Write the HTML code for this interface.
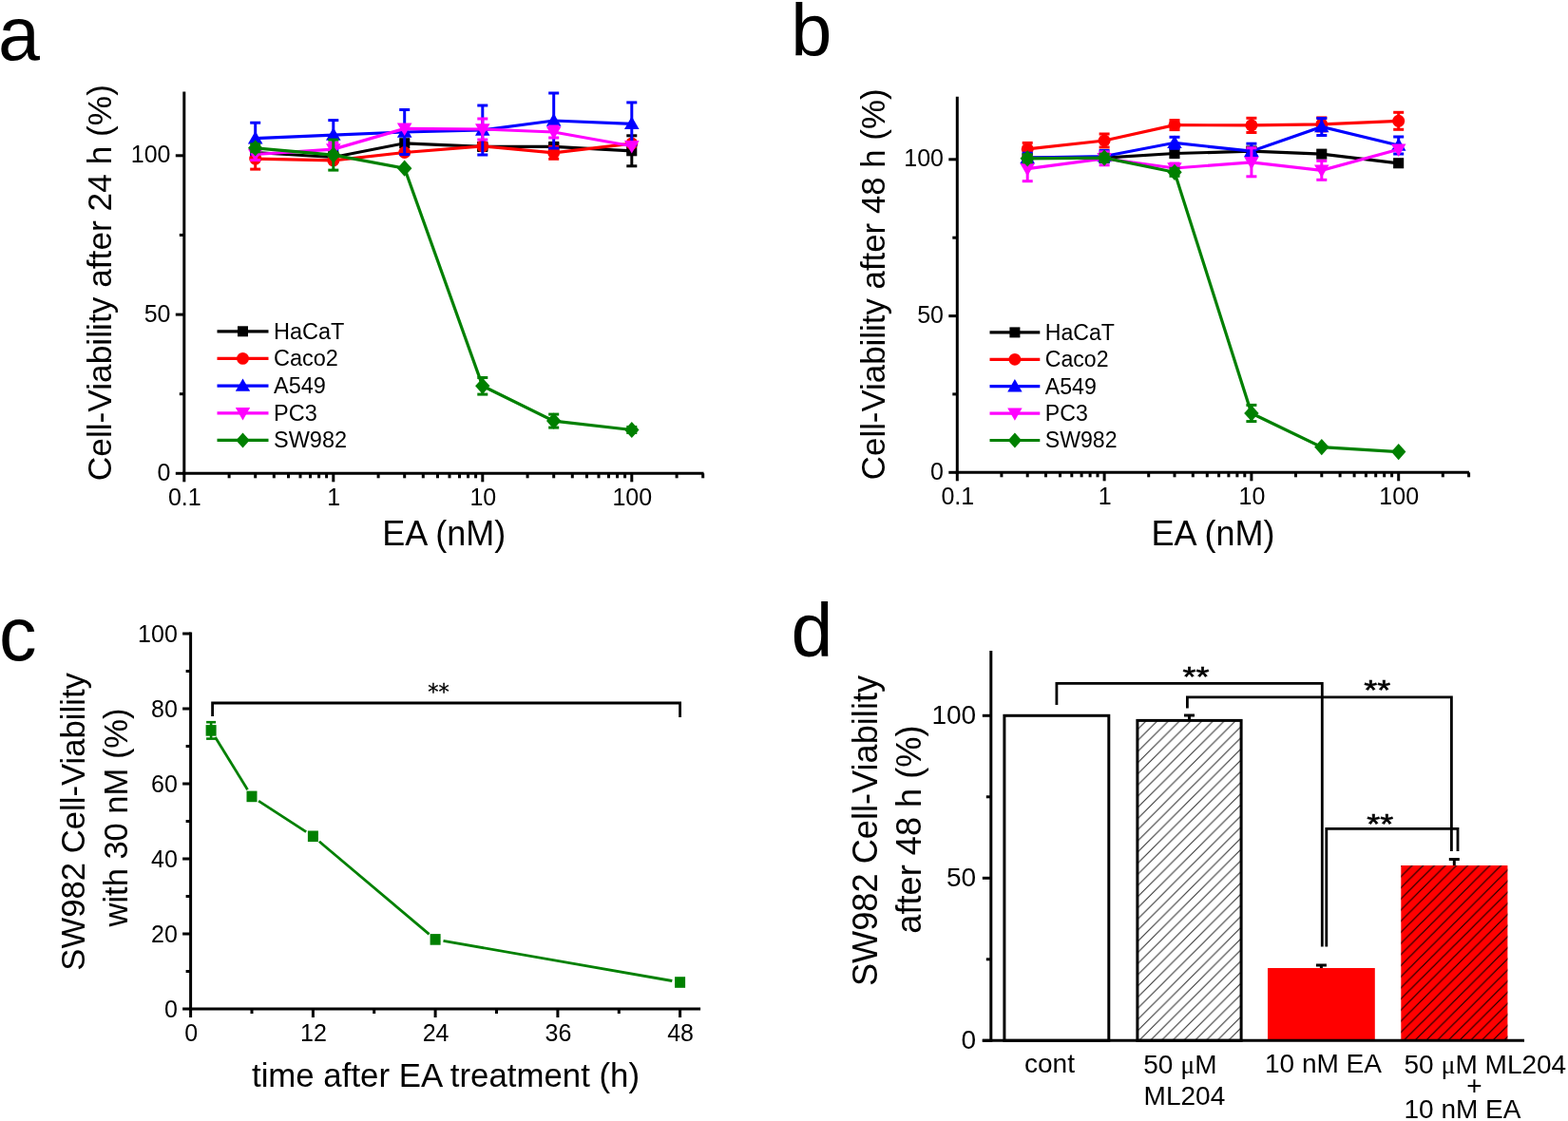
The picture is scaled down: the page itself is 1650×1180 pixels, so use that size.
<!DOCTYPE html><html><head><meta charset="utf-8"><title>Figure</title><style>html,body{margin:0;padding:0;background:#fff;width:1650px;height:1180px;overflow:hidden}svg{display:block}</style></head><body>
<svg width="1650" height="1180" viewBox="0 0 1650 1180" font-family="'Liberation Sans', Arial, sans-serif" fill="#000">
<rect width="1650" height="1180" fill="#fff"/>
<line x1="193.8" y1="96.5" x2="193.8" y2="499.8" stroke="#000" stroke-width="3" stroke-linecap="butt"/>
<line x1="192.3" y1="498.3" x2="740.5" y2="498.3" stroke="#000" stroke-width="3" stroke-linecap="butt"/>
<line x1="184.8" y1="498.3" x2="193.8" y2="498.3" stroke="#000" stroke-width="3" stroke-linecap="butt"/>
<text x="179.5" y="505.9" font-size="25" text-anchor="end">0</text>
<line x1="184.8" y1="331.1" x2="193.8" y2="331.1" stroke="#000" stroke-width="3" stroke-linecap="butt"/>
<text x="179.5" y="338.7" font-size="25" text-anchor="end">50</text>
<line x1="184.8" y1="163.8" x2="193.8" y2="163.8" stroke="#000" stroke-width="3" stroke-linecap="butt"/>
<text x="179.5" y="171.4" font-size="25" text-anchor="end">100</text>
<line x1="188.8" y1="414.7" x2="193.8" y2="414.7" stroke="#000" stroke-width="3" stroke-linecap="butt"/>
<line x1="188.8" y1="247.4" x2="193.8" y2="247.4" stroke="#000" stroke-width="3" stroke-linecap="butt"/>
<line x1="193.8" y1="498.3" x2="193.8" y2="507.3" stroke="#000" stroke-width="3" stroke-linecap="butt"/>
<text x="194.3" y="532.3" font-size="25" text-anchor="middle">0.1</text>
<line x1="241.1" y1="498.3" x2="241.1" y2="503.3" stroke="#000" stroke-width="3" stroke-linecap="butt"/>
<line x1="268.7" y1="498.3" x2="268.7" y2="503.3" stroke="#000" stroke-width="3" stroke-linecap="butt"/>
<line x1="288.3" y1="498.3" x2="288.3" y2="503.3" stroke="#000" stroke-width="3" stroke-linecap="butt"/>
<line x1="303.5" y1="498.3" x2="303.5" y2="503.3" stroke="#000" stroke-width="3" stroke-linecap="butt"/>
<line x1="316.0" y1="498.3" x2="316.0" y2="503.3" stroke="#000" stroke-width="3" stroke-linecap="butt"/>
<line x1="326.5" y1="498.3" x2="326.5" y2="503.3" stroke="#000" stroke-width="3" stroke-linecap="butt"/>
<line x1="335.6" y1="498.3" x2="335.6" y2="503.3" stroke="#000" stroke-width="3" stroke-linecap="butt"/>
<line x1="343.6" y1="498.3" x2="343.6" y2="503.3" stroke="#000" stroke-width="3" stroke-linecap="butt"/>
<line x1="350.8" y1="498.3" x2="350.8" y2="507.3" stroke="#000" stroke-width="3" stroke-linecap="butt"/>
<text x="351.3" y="532.3" font-size="25" text-anchor="middle">1</text>
<line x1="398.1" y1="498.3" x2="398.1" y2="503.3" stroke="#000" stroke-width="3" stroke-linecap="butt"/>
<line x1="425.7" y1="498.3" x2="425.7" y2="503.3" stroke="#000" stroke-width="3" stroke-linecap="butt"/>
<line x1="445.3" y1="498.3" x2="445.3" y2="503.3" stroke="#000" stroke-width="3" stroke-linecap="butt"/>
<line x1="460.5" y1="498.3" x2="460.5" y2="503.3" stroke="#000" stroke-width="3" stroke-linecap="butt"/>
<line x1="473.0" y1="498.3" x2="473.0" y2="503.3" stroke="#000" stroke-width="3" stroke-linecap="butt"/>
<line x1="483.5" y1="498.3" x2="483.5" y2="503.3" stroke="#000" stroke-width="3" stroke-linecap="butt"/>
<line x1="492.6" y1="498.3" x2="492.6" y2="503.3" stroke="#000" stroke-width="3" stroke-linecap="butt"/>
<line x1="500.6" y1="498.3" x2="500.6" y2="503.3" stroke="#000" stroke-width="3" stroke-linecap="butt"/>
<line x1="507.8" y1="498.3" x2="507.8" y2="507.3" stroke="#000" stroke-width="3" stroke-linecap="butt"/>
<text x="508.3" y="532.3" font-size="25" text-anchor="middle">10</text>
<line x1="555.1" y1="498.3" x2="555.1" y2="503.3" stroke="#000" stroke-width="3" stroke-linecap="butt"/>
<line x1="582.7" y1="498.3" x2="582.7" y2="503.3" stroke="#000" stroke-width="3" stroke-linecap="butt"/>
<line x1="602.3" y1="498.3" x2="602.3" y2="503.3" stroke="#000" stroke-width="3" stroke-linecap="butt"/>
<line x1="617.5" y1="498.3" x2="617.5" y2="503.3" stroke="#000" stroke-width="3" stroke-linecap="butt"/>
<line x1="630.0" y1="498.3" x2="630.0" y2="503.3" stroke="#000" stroke-width="3" stroke-linecap="butt"/>
<line x1="640.5" y1="498.3" x2="640.5" y2="503.3" stroke="#000" stroke-width="3" stroke-linecap="butt"/>
<line x1="649.6" y1="498.3" x2="649.6" y2="503.3" stroke="#000" stroke-width="3" stroke-linecap="butt"/>
<line x1="657.6" y1="498.3" x2="657.6" y2="503.3" stroke="#000" stroke-width="3" stroke-linecap="butt"/>
<line x1="664.8" y1="498.3" x2="664.8" y2="507.3" stroke="#000" stroke-width="3" stroke-linecap="butt"/>
<text x="665.3" y="532.3" font-size="25" text-anchor="middle">100</text>
<line x1="712.1" y1="498.3" x2="712.1" y2="503.3" stroke="#000" stroke-width="3" stroke-linecap="butt"/>
<line x1="739.7" y1="498.3" x2="739.7" y2="503.3" stroke="#000" stroke-width="3" stroke-linecap="butt"/>
<text x="467.2" y="574.0" font-size="36" text-anchor="middle">EA (nM)</text>
<text transform="translate(116.6,297.6) rotate(-90)" font-size="35.3" text-anchor="middle">Cell-Viability after 24 h (%)</text>
<text x="-2.0" y="62.5" font-size="79" text-anchor="start">a</text>
<polyline points="268.7,160.5 350.8,165.5 425.7,150.8 507.8,154.4 582.7,154.4 664.8,158.8" fill="none" stroke="#000" stroke-width="3.2" stroke-linejoin="miter"/>
<line x1="350.8" y1="160.5" x2="350.8" y2="170.5" stroke="#000" stroke-width="3" stroke-linecap="butt"/>
<line x1="345.3" y1="160.5" x2="356.3" y2="160.5" stroke="#000" stroke-width="3" stroke-linecap="butt"/>
<line x1="345.3" y1="170.5" x2="356.3" y2="170.5" stroke="#000" stroke-width="3" stroke-linecap="butt"/>
<line x1="507.8" y1="151.4" x2="507.8" y2="157.4" stroke="#000" stroke-width="3" stroke-linecap="butt"/>
<line x1="502.3" y1="151.4" x2="513.3" y2="151.4" stroke="#000" stroke-width="3" stroke-linecap="butt"/>
<line x1="502.3" y1="157.4" x2="513.3" y2="157.4" stroke="#000" stroke-width="3" stroke-linecap="butt"/>
<line x1="582.7" y1="151.4" x2="582.7" y2="157.4" stroke="#000" stroke-width="3" stroke-linecap="butt"/>
<line x1="577.2" y1="151.4" x2="588.2" y2="151.4" stroke="#000" stroke-width="3" stroke-linecap="butt"/>
<line x1="577.2" y1="157.4" x2="588.2" y2="157.4" stroke="#000" stroke-width="3" stroke-linecap="butt"/>
<line x1="664.8" y1="142.8" x2="664.8" y2="174.8" stroke="#000" stroke-width="3" stroke-linecap="butt"/>
<line x1="659.3" y1="142.8" x2="670.3" y2="142.8" stroke="#000" stroke-width="3" stroke-linecap="butt"/>
<line x1="659.3" y1="174.8" x2="670.3" y2="174.8" stroke="#000" stroke-width="3" stroke-linecap="butt"/>
<rect x="263.2" y="154.9" width="11.1" height="11.1" fill="#000"/>
<rect x="345.2" y="159.9" width="11.1" height="11.1" fill="#000"/>
<rect x="420.2" y="145.2" width="11.1" height="11.1" fill="#000"/>
<rect x="502.2" y="148.9" width="11.1" height="11.1" fill="#000"/>
<rect x="577.2" y="148.9" width="11.1" height="11.1" fill="#000"/>
<rect x="659.2" y="153.2" width="11.1" height="11.1" fill="#000"/>
<polyline points="268.7,167.1 350.8,168.8 425.7,160.5 507.8,153.8 582.7,160.8 664.8,151.1" fill="none" stroke="#ff0000" stroke-width="3.2" stroke-linejoin="miter"/>
<line x1="268.7" y1="156.1" x2="268.7" y2="178.1" stroke="#ff0000" stroke-width="3" stroke-linecap="butt"/>
<line x1="263.2" y1="156.1" x2="274.2" y2="156.1" stroke="#ff0000" stroke-width="3" stroke-linecap="butt"/>
<line x1="263.2" y1="178.1" x2="274.2" y2="178.1" stroke="#ff0000" stroke-width="3" stroke-linecap="butt"/>
<line x1="582.7" y1="154.3" x2="582.7" y2="167.3" stroke="#ff0000" stroke-width="3" stroke-linecap="butt"/>
<line x1="577.2" y1="154.3" x2="588.2" y2="154.3" stroke="#ff0000" stroke-width="3" stroke-linecap="butt"/>
<line x1="577.2" y1="167.3" x2="588.2" y2="167.3" stroke="#ff0000" stroke-width="3" stroke-linecap="butt"/>
<circle cx="268.7" cy="167.1" r="6.5" fill="#ff0000"/>
<circle cx="350.8" cy="168.8" r="6.5" fill="#ff0000"/>
<circle cx="425.7" cy="160.5" r="6.5" fill="#ff0000"/>
<circle cx="507.8" cy="153.8" r="6.5" fill="#ff0000"/>
<circle cx="582.7" cy="160.8" r="6.5" fill="#ff0000"/>
<circle cx="664.8" cy="151.1" r="6.5" fill="#ff0000"/>
<polyline points="268.7,145.7 350.8,142.1 425.7,139.0 507.8,137.0 582.7,127.0 664.8,130.3" fill="none" stroke="#0000ff" stroke-width="3.2" stroke-linejoin="miter"/>
<line x1="268.7" y1="129.2" x2="268.7" y2="162.2" stroke="#0000ff" stroke-width="3" stroke-linecap="butt"/>
<line x1="263.2" y1="129.2" x2="274.2" y2="129.2" stroke="#0000ff" stroke-width="3" stroke-linecap="butt"/>
<line x1="263.2" y1="162.2" x2="274.2" y2="162.2" stroke="#0000ff" stroke-width="3" stroke-linecap="butt"/>
<line x1="350.8" y1="126.6" x2="350.8" y2="157.6" stroke="#0000ff" stroke-width="3" stroke-linecap="butt"/>
<line x1="345.3" y1="126.6" x2="356.3" y2="126.6" stroke="#0000ff" stroke-width="3" stroke-linecap="butt"/>
<line x1="345.3" y1="157.6" x2="356.3" y2="157.6" stroke="#0000ff" stroke-width="3" stroke-linecap="butt"/>
<line x1="425.7" y1="115.5" x2="425.7" y2="162.5" stroke="#0000ff" stroke-width="3" stroke-linecap="butt"/>
<line x1="420.2" y1="115.5" x2="431.2" y2="115.5" stroke="#0000ff" stroke-width="3" stroke-linecap="butt"/>
<line x1="420.2" y1="162.5" x2="431.2" y2="162.5" stroke="#0000ff" stroke-width="3" stroke-linecap="butt"/>
<line x1="507.8" y1="111.0" x2="507.8" y2="163.0" stroke="#0000ff" stroke-width="3" stroke-linecap="butt"/>
<line x1="502.3" y1="111.0" x2="513.3" y2="111.0" stroke="#0000ff" stroke-width="3" stroke-linecap="butt"/>
<line x1="502.3" y1="163.0" x2="513.3" y2="163.0" stroke="#0000ff" stroke-width="3" stroke-linecap="butt"/>
<line x1="582.7" y1="98.0" x2="582.7" y2="156.0" stroke="#0000ff" stroke-width="3" stroke-linecap="butt"/>
<line x1="577.2" y1="98.0" x2="588.2" y2="98.0" stroke="#0000ff" stroke-width="3" stroke-linecap="butt"/>
<line x1="577.2" y1="156.0" x2="588.2" y2="156.0" stroke="#0000ff" stroke-width="3" stroke-linecap="butt"/>
<line x1="664.8" y1="107.9" x2="664.8" y2="152.7" stroke="#0000ff" stroke-width="3" stroke-linecap="butt"/>
<line x1="659.3" y1="107.9" x2="670.3" y2="107.9" stroke="#0000ff" stroke-width="3" stroke-linecap="butt"/>
<line x1="659.3" y1="152.7" x2="670.3" y2="152.7" stroke="#0000ff" stroke-width="3" stroke-linecap="butt"/>
<polygon points="268.7,138.0 276.5,151.5 260.9,151.5" fill="#0000ff"/>
<polygon points="350.8,134.3 358.6,147.8 343.0,147.8" fill="#0000ff"/>
<polygon points="425.7,131.3 433.5,144.8 417.9,144.8" fill="#0000ff"/>
<polygon points="507.8,129.3 515.6,142.8 500.0,142.8" fill="#0000ff"/>
<polygon points="582.7,119.2 590.5,132.8 574.9,132.8" fill="#0000ff"/>
<polygon points="664.8,122.6 672.6,136.1 657.0,136.1" fill="#0000ff"/>
<polyline points="268.7,162.5 350.8,157.1 425.7,135.4 507.8,136.0 582.7,139.0 664.8,153.8" fill="none" stroke="#ff00ff" stroke-width="3.2" stroke-linejoin="miter"/>
<line x1="268.7" y1="156.5" x2="268.7" y2="168.5" stroke="#ff00ff" stroke-width="3" stroke-linecap="butt"/>
<line x1="263.2" y1="156.5" x2="274.2" y2="156.5" stroke="#ff00ff" stroke-width="3" stroke-linecap="butt"/>
<line x1="263.2" y1="168.5" x2="274.2" y2="168.5" stroke="#ff00ff" stroke-width="3" stroke-linecap="butt"/>
<line x1="350.8" y1="150.1" x2="350.8" y2="164.1" stroke="#ff00ff" stroke-width="3" stroke-linecap="butt"/>
<line x1="345.3" y1="150.1" x2="356.3" y2="150.1" stroke="#ff00ff" stroke-width="3" stroke-linecap="butt"/>
<line x1="345.3" y1="164.1" x2="356.3" y2="164.1" stroke="#ff00ff" stroke-width="3" stroke-linecap="butt"/>
<line x1="507.8" y1="125.0" x2="507.8" y2="147.0" stroke="#ff00ff" stroke-width="3" stroke-linecap="butt"/>
<line x1="502.3" y1="125.0" x2="513.3" y2="125.0" stroke="#ff00ff" stroke-width="3" stroke-linecap="butt"/>
<line x1="502.3" y1="147.0" x2="513.3" y2="147.0" stroke="#ff00ff" stroke-width="3" stroke-linecap="butt"/>
<line x1="582.7" y1="133.0" x2="582.7" y2="145.0" stroke="#ff00ff" stroke-width="3" stroke-linecap="butt"/>
<line x1="577.2" y1="133.0" x2="588.2" y2="133.0" stroke="#ff00ff" stroke-width="3" stroke-linecap="butt"/>
<line x1="577.2" y1="145.0" x2="588.2" y2="145.0" stroke="#ff00ff" stroke-width="3" stroke-linecap="butt"/>
<polygon points="268.7,170.2 276.5,156.7 260.9,156.7" fill="#ff00ff"/>
<polygon points="350.8,164.9 358.6,151.3 343.0,151.3" fill="#ff00ff"/>
<polygon points="425.7,143.1 433.5,129.6 417.9,129.6" fill="#ff00ff"/>
<polygon points="507.8,143.8 515.6,130.3 500.0,130.3" fill="#ff00ff"/>
<polygon points="582.7,146.8 590.5,133.3 574.9,133.3" fill="#ff00ff"/>
<polygon points="664.8,161.5 672.6,148.0 657.0,148.0" fill="#ff00ff"/>
<polyline points="268.7,155.8 350.8,163.1 425.7,177.2 507.8,406.3 582.7,443.1 664.8,452.5" fill="none" stroke="#008000" stroke-width="3.2" stroke-linejoin="miter"/>
<line x1="268.7" y1="151.8" x2="268.7" y2="159.8" stroke="#008000" stroke-width="3" stroke-linecap="butt"/>
<line x1="263.2" y1="151.8" x2="274.2" y2="151.8" stroke="#008000" stroke-width="3" stroke-linecap="butt"/>
<line x1="263.2" y1="159.8" x2="274.2" y2="159.8" stroke="#008000" stroke-width="3" stroke-linecap="butt"/>
<line x1="350.8" y1="147.1" x2="350.8" y2="179.1" stroke="#008000" stroke-width="3" stroke-linecap="butt"/>
<line x1="345.3" y1="147.1" x2="356.3" y2="147.1" stroke="#008000" stroke-width="3" stroke-linecap="butt"/>
<line x1="345.3" y1="179.1" x2="356.3" y2="179.1" stroke="#008000" stroke-width="3" stroke-linecap="butt"/>
<line x1="507.8" y1="397.5" x2="507.8" y2="415.1" stroke="#008000" stroke-width="3" stroke-linecap="butt"/>
<line x1="502.3" y1="397.5" x2="513.3" y2="397.5" stroke="#008000" stroke-width="3" stroke-linecap="butt"/>
<line x1="502.3" y1="415.1" x2="513.3" y2="415.1" stroke="#008000" stroke-width="3" stroke-linecap="butt"/>
<line x1="582.7" y1="436.1" x2="582.7" y2="450.1" stroke="#008000" stroke-width="3" stroke-linecap="butt"/>
<line x1="577.2" y1="436.1" x2="588.2" y2="436.1" stroke="#008000" stroke-width="3" stroke-linecap="butt"/>
<line x1="577.2" y1="450.1" x2="588.2" y2="450.1" stroke="#008000" stroke-width="3" stroke-linecap="butt"/>
<line x1="664.8" y1="449.5" x2="664.8" y2="455.5" stroke="#008000" stroke-width="3" stroke-linecap="butt"/>
<line x1="659.3" y1="449.5" x2="670.3" y2="449.5" stroke="#008000" stroke-width="3" stroke-linecap="butt"/>
<line x1="659.3" y1="455.5" x2="670.3" y2="455.5" stroke="#008000" stroke-width="3" stroke-linecap="butt"/>
<polygon points="268.7,147.2 276.4,155.8 268.7,164.4 261.0,155.8" fill="#008000"/>
<polygon points="350.8,154.5 358.5,163.1 350.8,171.7 343.1,163.1" fill="#008000"/>
<polygon points="425.7,168.6 433.4,177.2 425.7,185.8 418.0,177.2" fill="#008000"/>
<polygon points="507.8,397.7 515.5,406.3 507.8,414.9 500.1,406.3" fill="#008000"/>
<polygon points="582.7,434.5 590.4,443.1 582.7,451.7 575.0,443.1" fill="#008000"/>
<polygon points="664.8,443.9 672.5,452.5 664.8,461.1 657.1,452.5" fill="#008000"/>
<line x1="228.5" y1="348.8" x2="282.5" y2="348.8" stroke="#000" stroke-width="3.2" stroke-linecap="butt"/>
<rect x="250.0" y="343.3" width="11.0" height="11.0" fill="#000"/>
<text x="288.0" y="356.6" font-size="23.5" text-anchor="start">HaCaT</text>
<line x1="228.5" y1="377.4" x2="282.5" y2="377.4" stroke="#ff0000" stroke-width="3.2" stroke-linecap="butt"/>
<circle cx="255.5" cy="377.4" r="6.4" fill="#ff0000"/>
<text x="288.0" y="385.2" font-size="23.5" text-anchor="start">Caco2</text>
<line x1="228.5" y1="406.1" x2="282.5" y2="406.1" stroke="#0000ff" stroke-width="3.2" stroke-linecap="butt"/>
<polygon points="255.5,398.4 263.2,411.8 247.8,411.8" fill="#0000ff"/>
<text x="288.0" y="413.9" font-size="23.5" text-anchor="start">A549</text>
<line x1="228.5" y1="434.8" x2="282.5" y2="434.8" stroke="#ff00ff" stroke-width="3.2" stroke-linecap="butt"/>
<polygon points="255.5,442.4 263.2,429.1 247.8,429.1" fill="#ff00ff"/>
<text x="288.0" y="442.6" font-size="23.5" text-anchor="start">PC3</text>
<line x1="228.5" y1="463.4" x2="282.5" y2="463.4" stroke="#008000" stroke-width="3.2" stroke-linecap="butt"/>
<polygon points="255.5,455.4 262.7,463.4 255.5,471.4 248.3,463.4" fill="#008000"/>
<text x="288.0" y="471.2" font-size="23.5" text-anchor="start">SW982</text>
<line x1="1007.3" y1="101.8" x2="1007.3" y2="498.8" stroke="#000" stroke-width="3" stroke-linecap="butt"/>
<line x1="1005.8" y1="497.3" x2="1546.0" y2="497.3" stroke="#000" stroke-width="3" stroke-linecap="butt"/>
<line x1="998.3" y1="497.3" x2="1007.3" y2="497.3" stroke="#000" stroke-width="3" stroke-linecap="butt"/>
<text x="993.0" y="504.9" font-size="25" text-anchor="end">0</text>
<line x1="998.3" y1="332.6" x2="1007.3" y2="332.6" stroke="#000" stroke-width="3" stroke-linecap="butt"/>
<text x="993.0" y="340.2" font-size="25" text-anchor="end">50</text>
<line x1="998.3" y1="167.8" x2="1007.3" y2="167.8" stroke="#000" stroke-width="3" stroke-linecap="butt"/>
<text x="993.0" y="175.4" font-size="25" text-anchor="end">100</text>
<line x1="1002.3" y1="414.9" x2="1007.3" y2="414.9" stroke="#000" stroke-width="3" stroke-linecap="butt"/>
<line x1="1002.3" y1="250.2" x2="1007.3" y2="250.2" stroke="#000" stroke-width="3" stroke-linecap="butt"/>
<line x1="1007.3" y1="497.3" x2="1007.3" y2="506.3" stroke="#000" stroke-width="3" stroke-linecap="butt"/>
<text x="1007.8" y="531.3" font-size="25" text-anchor="middle">0.1</text>
<line x1="1053.9" y1="497.3" x2="1053.9" y2="502.3" stroke="#000" stroke-width="3" stroke-linecap="butt"/>
<line x1="1081.2" y1="497.3" x2="1081.2" y2="502.3" stroke="#000" stroke-width="3" stroke-linecap="butt"/>
<line x1="1100.5" y1="497.3" x2="1100.5" y2="502.3" stroke="#000" stroke-width="3" stroke-linecap="butt"/>
<line x1="1115.5" y1="497.3" x2="1115.5" y2="502.3" stroke="#000" stroke-width="3" stroke-linecap="butt"/>
<line x1="1127.8" y1="497.3" x2="1127.8" y2="502.3" stroke="#000" stroke-width="3" stroke-linecap="butt"/>
<line x1="1138.1" y1="497.3" x2="1138.1" y2="502.3" stroke="#000" stroke-width="3" stroke-linecap="butt"/>
<line x1="1147.1" y1="497.3" x2="1147.1" y2="502.3" stroke="#000" stroke-width="3" stroke-linecap="butt"/>
<line x1="1155.0" y1="497.3" x2="1155.0" y2="502.3" stroke="#000" stroke-width="3" stroke-linecap="butt"/>
<line x1="1162.1" y1="497.3" x2="1162.1" y2="506.3" stroke="#000" stroke-width="3" stroke-linecap="butt"/>
<text x="1162.6" y="531.3" font-size="25" text-anchor="middle">1</text>
<line x1="1208.7" y1="497.3" x2="1208.7" y2="502.3" stroke="#000" stroke-width="3" stroke-linecap="butt"/>
<line x1="1236.0" y1="497.3" x2="1236.0" y2="502.3" stroke="#000" stroke-width="3" stroke-linecap="butt"/>
<line x1="1255.3" y1="497.3" x2="1255.3" y2="502.3" stroke="#000" stroke-width="3" stroke-linecap="butt"/>
<line x1="1270.3" y1="497.3" x2="1270.3" y2="502.3" stroke="#000" stroke-width="3" stroke-linecap="butt"/>
<line x1="1282.6" y1="497.3" x2="1282.6" y2="502.3" stroke="#000" stroke-width="3" stroke-linecap="butt"/>
<line x1="1292.9" y1="497.3" x2="1292.9" y2="502.3" stroke="#000" stroke-width="3" stroke-linecap="butt"/>
<line x1="1301.9" y1="497.3" x2="1301.9" y2="502.3" stroke="#000" stroke-width="3" stroke-linecap="butt"/>
<line x1="1309.8" y1="497.3" x2="1309.8" y2="502.3" stroke="#000" stroke-width="3" stroke-linecap="butt"/>
<line x1="1316.9" y1="497.3" x2="1316.9" y2="506.3" stroke="#000" stroke-width="3" stroke-linecap="butt"/>
<text x="1317.4" y="531.3" font-size="25" text-anchor="middle">10</text>
<line x1="1363.5" y1="497.3" x2="1363.5" y2="502.3" stroke="#000" stroke-width="3" stroke-linecap="butt"/>
<line x1="1390.8" y1="497.3" x2="1390.8" y2="502.3" stroke="#000" stroke-width="3" stroke-linecap="butt"/>
<line x1="1410.1" y1="497.3" x2="1410.1" y2="502.3" stroke="#000" stroke-width="3" stroke-linecap="butt"/>
<line x1="1425.1" y1="497.3" x2="1425.1" y2="502.3" stroke="#000" stroke-width="3" stroke-linecap="butt"/>
<line x1="1437.4" y1="497.3" x2="1437.4" y2="502.3" stroke="#000" stroke-width="3" stroke-linecap="butt"/>
<line x1="1447.7" y1="497.3" x2="1447.7" y2="502.3" stroke="#000" stroke-width="3" stroke-linecap="butt"/>
<line x1="1456.7" y1="497.3" x2="1456.7" y2="502.3" stroke="#000" stroke-width="3" stroke-linecap="butt"/>
<line x1="1464.6" y1="497.3" x2="1464.6" y2="502.3" stroke="#000" stroke-width="3" stroke-linecap="butt"/>
<line x1="1471.7" y1="497.3" x2="1471.7" y2="506.3" stroke="#000" stroke-width="3" stroke-linecap="butt"/>
<text x="1472.2" y="531.3" font-size="25" text-anchor="middle">100</text>
<line x1="1518.3" y1="497.3" x2="1518.3" y2="502.3" stroke="#000" stroke-width="3" stroke-linecap="butt"/>
<line x1="1545.6" y1="497.3" x2="1545.6" y2="502.3" stroke="#000" stroke-width="3" stroke-linecap="butt"/>
<text x="1276.5" y="574.0" font-size="36" text-anchor="middle">EA (nM)</text>
<text transform="translate(931.0,299.3) rotate(-90)" font-size="34.85" text-anchor="middle">Cell-Viability after 48 h (%)</text>
<text x="832.3" y="58.6" font-size="77.5" text-anchor="start">b</text>
<polyline points="1081.2,166.2 1162.1,166.2 1236.0,161.5 1316.9,159.2 1390.8,162.2 1471.7,171.8" fill="none" stroke="#000" stroke-width="3.2" stroke-linejoin="miter"/>
<line x1="1316.9" y1="155.2" x2="1316.9" y2="163.2" stroke="#000" stroke-width="3" stroke-linecap="butt"/>
<line x1="1311.4" y1="155.2" x2="1322.4" y2="155.2" stroke="#000" stroke-width="3" stroke-linecap="butt"/>
<line x1="1311.4" y1="163.2" x2="1322.4" y2="163.2" stroke="#000" stroke-width="3" stroke-linecap="butt"/>
<rect x="1075.6" y="160.6" width="11.1" height="11.1" fill="#000"/>
<rect x="1156.5" y="160.6" width="11.1" height="11.1" fill="#000"/>
<rect x="1230.4" y="156.0" width="11.1" height="11.1" fill="#000"/>
<rect x="1311.3" y="153.7" width="11.1" height="11.1" fill="#000"/>
<rect x="1385.2" y="156.6" width="11.1" height="11.1" fill="#000"/>
<rect x="1466.1" y="166.2" width="11.1" height="11.1" fill="#000"/>
<polyline points="1081.2,156.9 1162.1,148.0 1236.0,131.6 1316.9,131.9 1390.8,130.9 1471.7,127.3" fill="none" stroke="#ff0000" stroke-width="3.2" stroke-linejoin="miter"/>
<line x1="1081.2" y1="150.4" x2="1081.2" y2="163.4" stroke="#ff0000" stroke-width="3" stroke-linecap="butt"/>
<line x1="1075.7" y1="150.4" x2="1086.7" y2="150.4" stroke="#ff0000" stroke-width="3" stroke-linecap="butt"/>
<line x1="1075.7" y1="163.4" x2="1086.7" y2="163.4" stroke="#ff0000" stroke-width="3" stroke-linecap="butt"/>
<line x1="1162.1" y1="141.0" x2="1162.1" y2="155.0" stroke="#ff0000" stroke-width="3" stroke-linecap="butt"/>
<line x1="1156.6" y1="141.0" x2="1167.6" y2="141.0" stroke="#ff0000" stroke-width="3" stroke-linecap="butt"/>
<line x1="1156.6" y1="155.0" x2="1167.6" y2="155.0" stroke="#ff0000" stroke-width="3" stroke-linecap="butt"/>
<line x1="1236.0" y1="126.6" x2="1236.0" y2="136.6" stroke="#ff0000" stroke-width="3" stroke-linecap="butt"/>
<line x1="1230.5" y1="126.6" x2="1241.5" y2="126.6" stroke="#ff0000" stroke-width="3" stroke-linecap="butt"/>
<line x1="1230.5" y1="136.6" x2="1241.5" y2="136.6" stroke="#ff0000" stroke-width="3" stroke-linecap="butt"/>
<line x1="1316.9" y1="124.3" x2="1316.9" y2="139.5" stroke="#ff0000" stroke-width="3" stroke-linecap="butt"/>
<line x1="1311.4" y1="124.3" x2="1322.4" y2="124.3" stroke="#ff0000" stroke-width="3" stroke-linecap="butt"/>
<line x1="1311.4" y1="139.5" x2="1322.4" y2="139.5" stroke="#ff0000" stroke-width="3" stroke-linecap="butt"/>
<line x1="1390.8" y1="123.9" x2="1390.8" y2="137.9" stroke="#ff0000" stroke-width="3" stroke-linecap="butt"/>
<line x1="1385.3" y1="123.9" x2="1396.3" y2="123.9" stroke="#ff0000" stroke-width="3" stroke-linecap="butt"/>
<line x1="1385.3" y1="137.9" x2="1396.3" y2="137.9" stroke="#ff0000" stroke-width="3" stroke-linecap="butt"/>
<line x1="1471.7" y1="118.3" x2="1471.7" y2="136.3" stroke="#ff0000" stroke-width="3" stroke-linecap="butt"/>
<line x1="1466.2" y1="118.3" x2="1477.2" y2="118.3" stroke="#ff0000" stroke-width="3" stroke-linecap="butt"/>
<line x1="1466.2" y1="136.3" x2="1477.2" y2="136.3" stroke="#ff0000" stroke-width="3" stroke-linecap="butt"/>
<circle cx="1081.2" cy="156.9" r="6.5" fill="#ff0000"/>
<circle cx="1162.1" cy="148.0" r="6.5" fill="#ff0000"/>
<circle cx="1236.0" cy="131.6" r="6.5" fill="#ff0000"/>
<circle cx="1316.9" cy="131.9" r="6.5" fill="#ff0000"/>
<circle cx="1390.8" cy="130.9" r="6.5" fill="#ff0000"/>
<circle cx="1471.7" cy="127.3" r="6.5" fill="#ff0000"/>
<polyline points="1081.2,166.2 1162.1,164.5 1236.0,150.3 1316.9,159.2 1390.8,133.5 1471.7,153.0" fill="none" stroke="#0000ff" stroke-width="3.2" stroke-linejoin="miter"/>
<line x1="1081.2" y1="161.2" x2="1081.2" y2="171.2" stroke="#0000ff" stroke-width="3" stroke-linecap="butt"/>
<line x1="1075.7" y1="161.2" x2="1086.7" y2="161.2" stroke="#0000ff" stroke-width="3" stroke-linecap="butt"/>
<line x1="1075.7" y1="171.2" x2="1086.7" y2="171.2" stroke="#0000ff" stroke-width="3" stroke-linecap="butt"/>
<line x1="1162.1" y1="158.5" x2="1162.1" y2="170.5" stroke="#0000ff" stroke-width="3" stroke-linecap="butt"/>
<line x1="1156.6" y1="158.5" x2="1167.6" y2="158.5" stroke="#0000ff" stroke-width="3" stroke-linecap="butt"/>
<line x1="1156.6" y1="170.5" x2="1167.6" y2="170.5" stroke="#0000ff" stroke-width="3" stroke-linecap="butt"/>
<line x1="1236.0" y1="144.3" x2="1236.0" y2="156.3" stroke="#0000ff" stroke-width="3" stroke-linecap="butt"/>
<line x1="1230.5" y1="144.3" x2="1241.5" y2="144.3" stroke="#0000ff" stroke-width="3" stroke-linecap="butt"/>
<line x1="1230.5" y1="156.3" x2="1241.5" y2="156.3" stroke="#0000ff" stroke-width="3" stroke-linecap="butt"/>
<line x1="1316.9" y1="151.2" x2="1316.9" y2="167.2" stroke="#0000ff" stroke-width="3" stroke-linecap="butt"/>
<line x1="1311.4" y1="151.2" x2="1322.4" y2="151.2" stroke="#0000ff" stroke-width="3" stroke-linecap="butt"/>
<line x1="1311.4" y1="167.2" x2="1322.4" y2="167.2" stroke="#0000ff" stroke-width="3" stroke-linecap="butt"/>
<line x1="1390.8" y1="124.5" x2="1390.8" y2="142.5" stroke="#0000ff" stroke-width="3" stroke-linecap="butt"/>
<line x1="1385.3" y1="124.5" x2="1396.3" y2="124.5" stroke="#0000ff" stroke-width="3" stroke-linecap="butt"/>
<line x1="1385.3" y1="142.5" x2="1396.3" y2="142.5" stroke="#0000ff" stroke-width="3" stroke-linecap="butt"/>
<line x1="1471.7" y1="144.0" x2="1471.7" y2="162.0" stroke="#0000ff" stroke-width="3" stroke-linecap="butt"/>
<line x1="1466.2" y1="144.0" x2="1477.2" y2="144.0" stroke="#0000ff" stroke-width="3" stroke-linecap="butt"/>
<line x1="1466.2" y1="162.0" x2="1477.2" y2="162.0" stroke="#0000ff" stroke-width="3" stroke-linecap="butt"/>
<polygon points="1081.2,158.4 1088.9,171.9 1073.4,171.9" fill="#0000ff"/>
<polygon points="1162.1,156.7 1169.9,170.3 1154.3,170.3" fill="#0000ff"/>
<polygon points="1236.0,142.6 1243.7,156.1 1228.2,156.1" fill="#0000ff"/>
<polygon points="1316.9,151.5 1324.7,165.0 1309.1,165.0" fill="#0000ff"/>
<polygon points="1390.8,125.8 1398.5,139.3 1383.0,139.3" fill="#0000ff"/>
<polygon points="1471.7,145.2 1479.5,158.7 1463.9,158.7" fill="#0000ff"/>
<polyline points="1081.2,177.7 1162.1,166.8 1236.0,177.0 1316.9,170.8 1390.8,179.3 1471.7,157.3" fill="none" stroke="#ff00ff" stroke-width="3.2" stroke-linejoin="miter"/>
<line x1="1081.2" y1="164.7" x2="1081.2" y2="190.7" stroke="#ff00ff" stroke-width="3" stroke-linecap="butt"/>
<line x1="1075.7" y1="164.7" x2="1086.7" y2="164.7" stroke="#ff00ff" stroke-width="3" stroke-linecap="butt"/>
<line x1="1075.7" y1="190.7" x2="1086.7" y2="190.7" stroke="#ff00ff" stroke-width="3" stroke-linecap="butt"/>
<line x1="1162.1" y1="159.8" x2="1162.1" y2="173.8" stroke="#ff00ff" stroke-width="3" stroke-linecap="butt"/>
<line x1="1156.6" y1="159.8" x2="1167.6" y2="159.8" stroke="#ff00ff" stroke-width="3" stroke-linecap="butt"/>
<line x1="1156.6" y1="173.8" x2="1167.6" y2="173.8" stroke="#ff00ff" stroke-width="3" stroke-linecap="butt"/>
<line x1="1236.0" y1="172.0" x2="1236.0" y2="182.0" stroke="#ff00ff" stroke-width="3" stroke-linecap="butt"/>
<line x1="1230.5" y1="172.0" x2="1241.5" y2="172.0" stroke="#ff00ff" stroke-width="3" stroke-linecap="butt"/>
<line x1="1230.5" y1="182.0" x2="1241.5" y2="182.0" stroke="#ff00ff" stroke-width="3" stroke-linecap="butt"/>
<line x1="1316.9" y1="155.8" x2="1316.9" y2="185.8" stroke="#ff00ff" stroke-width="3" stroke-linecap="butt"/>
<line x1="1311.4" y1="155.8" x2="1322.4" y2="155.8" stroke="#ff00ff" stroke-width="3" stroke-linecap="butt"/>
<line x1="1311.4" y1="185.8" x2="1322.4" y2="185.8" stroke="#ff00ff" stroke-width="3" stroke-linecap="butt"/>
<line x1="1390.8" y1="169.3" x2="1390.8" y2="189.3" stroke="#ff00ff" stroke-width="3" stroke-linecap="butt"/>
<line x1="1385.3" y1="169.3" x2="1396.3" y2="169.3" stroke="#ff00ff" stroke-width="3" stroke-linecap="butt"/>
<line x1="1385.3" y1="189.3" x2="1396.3" y2="189.3" stroke="#ff00ff" stroke-width="3" stroke-linecap="butt"/>
<polygon points="1081.2,185.5 1088.9,171.9 1073.4,171.9" fill="#ff00ff"/>
<polygon points="1162.1,174.6 1169.9,161.0 1154.3,161.0" fill="#ff00ff"/>
<polygon points="1236.0,184.8 1243.7,171.3 1228.2,171.3" fill="#ff00ff"/>
<polygon points="1316.9,178.5 1324.7,165.0 1309.1,165.0" fill="#ff00ff"/>
<polygon points="1390.8,187.1 1398.5,173.6 1383.0,173.6" fill="#ff00ff"/>
<polygon points="1471.7,165.0 1479.5,151.5 1463.9,151.5" fill="#ff00ff"/>
<polyline points="1081.2,166.8 1162.1,166.2 1236.0,181.3 1316.9,435.0 1390.8,470.6 1471.7,475.6" fill="none" stroke="#008000" stroke-width="3.2" stroke-linejoin="miter"/>
<line x1="1081.2" y1="162.8" x2="1081.2" y2="170.8" stroke="#008000" stroke-width="3" stroke-linecap="butt"/>
<line x1="1075.7" y1="162.8" x2="1086.7" y2="162.8" stroke="#008000" stroke-width="3" stroke-linecap="butt"/>
<line x1="1075.7" y1="170.8" x2="1086.7" y2="170.8" stroke="#008000" stroke-width="3" stroke-linecap="butt"/>
<line x1="1162.1" y1="162.2" x2="1162.1" y2="170.2" stroke="#008000" stroke-width="3" stroke-linecap="butt"/>
<line x1="1156.6" y1="162.2" x2="1167.6" y2="162.2" stroke="#008000" stroke-width="3" stroke-linecap="butt"/>
<line x1="1156.6" y1="170.2" x2="1167.6" y2="170.2" stroke="#008000" stroke-width="3" stroke-linecap="butt"/>
<line x1="1236.0" y1="177.3" x2="1236.0" y2="185.3" stroke="#008000" stroke-width="3" stroke-linecap="butt"/>
<line x1="1230.5" y1="177.3" x2="1241.5" y2="177.3" stroke="#008000" stroke-width="3" stroke-linecap="butt"/>
<line x1="1230.5" y1="185.3" x2="1241.5" y2="185.3" stroke="#008000" stroke-width="3" stroke-linecap="butt"/>
<line x1="1316.9" y1="426.4" x2="1316.9" y2="443.6" stroke="#008000" stroke-width="3" stroke-linecap="butt"/>
<line x1="1311.4" y1="426.4" x2="1322.4" y2="426.4" stroke="#008000" stroke-width="3" stroke-linecap="butt"/>
<line x1="1311.4" y1="443.6" x2="1322.4" y2="443.6" stroke="#008000" stroke-width="3" stroke-linecap="butt"/>
<polygon points="1081.2,158.2 1088.9,166.8 1081.2,175.4 1073.5,166.8" fill="#008000"/>
<polygon points="1162.1,157.6 1169.8,166.2 1162.1,174.8 1154.4,166.2" fill="#008000"/>
<polygon points="1236.0,172.7 1243.7,181.3 1236.0,189.9 1228.3,181.3" fill="#008000"/>
<polygon points="1316.9,426.4 1324.6,435.0 1316.9,443.6 1309.2,435.0" fill="#008000"/>
<polygon points="1390.8,462.0 1398.5,470.6 1390.8,479.2 1383.1,470.6" fill="#008000"/>
<polygon points="1471.7,467.0 1479.4,475.6 1471.7,484.2 1464.0,475.6" fill="#008000"/>
<line x1="1041.5" y1="349.9" x2="1094.3" y2="349.9" stroke="#000" stroke-width="3.2" stroke-linecap="butt"/>
<rect x="1062.4" y="344.4" width="11.0" height="11.0" fill="#000"/>
<text x="1099.8" y="357.7" font-size="23.1" text-anchor="start">HaCaT</text>
<line x1="1041.5" y1="378.3" x2="1094.3" y2="378.3" stroke="#ff0000" stroke-width="3.2" stroke-linecap="butt"/>
<circle cx="1067.9" cy="378.3" r="6.4" fill="#ff0000"/>
<text x="1099.8" y="386.1" font-size="23.1" text-anchor="start">Caco2</text>
<line x1="1041.5" y1="406.7" x2="1094.3" y2="406.7" stroke="#0000ff" stroke-width="3.2" stroke-linecap="butt"/>
<polygon points="1067.9,399.0 1075.6,412.4 1060.2,412.4" fill="#0000ff"/>
<text x="1099.8" y="414.5" font-size="23.1" text-anchor="start">A549</text>
<line x1="1041.5" y1="435.1" x2="1094.3" y2="435.1" stroke="#ff00ff" stroke-width="3.2" stroke-linecap="butt"/>
<polygon points="1067.9,442.8 1075.6,429.4 1060.2,429.4" fill="#ff00ff"/>
<text x="1099.8" y="442.9" font-size="23.1" text-anchor="start">PC3</text>
<line x1="1041.5" y1="463.5" x2="1094.3" y2="463.5" stroke="#008000" stroke-width="3.2" stroke-linecap="butt"/>
<polygon points="1067.9,455.5 1075.1,463.5 1067.9,471.5 1060.7,463.5" fill="#008000"/>
<text x="1099.8" y="471.3" font-size="23.1" text-anchor="start">SW982</text>
<line x1="200.6" y1="665.5" x2="200.6" y2="1063.5" stroke="#000" stroke-width="3" stroke-linecap="butt"/>
<line x1="199.1" y1="1062.0" x2="737.1" y2="1062.0" stroke="#000" stroke-width="3" stroke-linecap="butt"/>
<line x1="192.1" y1="1062.0" x2="200.6" y2="1062.0" stroke="#000" stroke-width="3" stroke-linecap="butt"/>
<text x="186.8" y="1070.6" font-size="25" text-anchor="end">0</text>
<line x1="192.1" y1="983.0" x2="200.6" y2="983.0" stroke="#000" stroke-width="3" stroke-linecap="butt"/>
<text x="186.8" y="991.6" font-size="25" text-anchor="end">20</text>
<line x1="192.1" y1="904.0" x2="200.6" y2="904.0" stroke="#000" stroke-width="3" stroke-linecap="butt"/>
<text x="186.8" y="912.6" font-size="25" text-anchor="end">40</text>
<line x1="192.1" y1="825.0" x2="200.6" y2="825.0" stroke="#000" stroke-width="3" stroke-linecap="butt"/>
<text x="186.8" y="833.6" font-size="25" text-anchor="end">60</text>
<line x1="192.1" y1="746.0" x2="200.6" y2="746.0" stroke="#000" stroke-width="3" stroke-linecap="butt"/>
<text x="186.8" y="754.6" font-size="25" text-anchor="end">80</text>
<line x1="192.1" y1="667.0" x2="200.6" y2="667.0" stroke="#000" stroke-width="3" stroke-linecap="butt"/>
<text x="186.8" y="675.6" font-size="25" text-anchor="end">100</text>
<line x1="195.6" y1="1022.5" x2="200.6" y2="1022.5" stroke="#000" stroke-width="3" stroke-linecap="butt"/>
<line x1="195.6" y1="943.5" x2="200.6" y2="943.5" stroke="#000" stroke-width="3" stroke-linecap="butt"/>
<line x1="195.6" y1="864.5" x2="200.6" y2="864.5" stroke="#000" stroke-width="3" stroke-linecap="butt"/>
<line x1="195.6" y1="785.5" x2="200.6" y2="785.5" stroke="#000" stroke-width="3" stroke-linecap="butt"/>
<line x1="195.6" y1="706.5" x2="200.6" y2="706.5" stroke="#000" stroke-width="3" stroke-linecap="butt"/>
<line x1="200.6" y1="1062.0" x2="200.6" y2="1071.0" stroke="#000" stroke-width="3" stroke-linecap="butt"/>
<text x="201.1" y="1095.5" font-size="25" text-anchor="middle">0</text>
<line x1="329.4" y1="1062.0" x2="329.4" y2="1071.0" stroke="#000" stroke-width="3" stroke-linecap="butt"/>
<text x="329.9" y="1095.5" font-size="25" text-anchor="middle">12</text>
<line x1="458.1" y1="1062.0" x2="458.1" y2="1071.0" stroke="#000" stroke-width="3" stroke-linecap="butt"/>
<text x="458.6" y="1095.5" font-size="25" text-anchor="middle">24</text>
<line x1="586.9" y1="1062.0" x2="586.9" y2="1071.0" stroke="#000" stroke-width="3" stroke-linecap="butt"/>
<text x="587.4" y="1095.5" font-size="25" text-anchor="middle">36</text>
<line x1="715.6" y1="1062.0" x2="715.6" y2="1071.0" stroke="#000" stroke-width="3" stroke-linecap="butt"/>
<text x="716.1" y="1095.5" font-size="25" text-anchor="middle">48</text>
<line x1="265.0" y1="1062.0" x2="265.0" y2="1067.0" stroke="#000" stroke-width="3" stroke-linecap="butt"/>
<line x1="393.7" y1="1062.0" x2="393.7" y2="1067.0" stroke="#000" stroke-width="3" stroke-linecap="butt"/>
<line x1="522.5" y1="1062.0" x2="522.5" y2="1067.0" stroke="#000" stroke-width="3" stroke-linecap="butt"/>
<line x1="651.3" y1="1062.0" x2="651.3" y2="1067.0" stroke="#000" stroke-width="3" stroke-linecap="butt"/>
<text x="469.0" y="1143.5" font-size="34.8" text-anchor="middle">time after EA treatment (h)</text>
<text transform="translate(88.7,864.9) rotate(-90)" font-size="34.7" text-anchor="middle">SW982 Cell-Viability</text>
<text transform="translate(133.6,860.5) rotate(-90)" font-size="34.5" text-anchor="middle">with 30 nM (%)</text>
<text x="-1.0" y="694.5" font-size="79" text-anchor="start">c</text>
<polyline points="223.6,754.0 223.6,740.0 715.6,740.0 715.6,755.0" fill="none" stroke="#000" stroke-width="2.8" stroke-linejoin="miter"/>
<text x="461.5" y="736.3" font-size="22.5" text-anchor="middle" font-family="DejaVu Sans, sans-serif" stroke="#000" stroke-width="0.35">**</text>
<line x1="226.5" y1="776.1" x2="260.5" y2="831.2" stroke="#008000" stroke-width="2.8" stroke-linecap="butt"/>
<line x1="272.1" y1="843.1" x2="322.2" y2="875.7" stroke="#008000" stroke-width="2.8" stroke-linecap="butt"/>
<line x1="335.9" y1="885.8" x2="451.6" y2="983.4" stroke="#008000" stroke-width="2.8" stroke-linecap="butt"/>
<line x1="466.5" y1="990.4" x2="707.3" y2="1032.5" stroke="#008000" stroke-width="2.8" stroke-linecap="butt"/>
<line x1="222.1" y1="760.2" x2="222.1" y2="777.6" stroke="#008000" stroke-width="2.6" stroke-linecap="butt"/>
<line x1="217.1" y1="760.2" x2="227.1" y2="760.2" stroke="#008000" stroke-width="2.6" stroke-linecap="butt"/>
<line x1="217.1" y1="777.6" x2="227.1" y2="777.6" stroke="#008000" stroke-width="2.6" stroke-linecap="butt"/>
<rect x="216.6" y="763.1" width="11" height="11.6" fill="#008000"/>
<line x1="265.0" y1="834.5" x2="265.0" y2="842.4" stroke="#008000" stroke-width="2.6" stroke-linecap="butt"/>
<line x1="260.0" y1="834.5" x2="270.0" y2="834.5" stroke="#008000" stroke-width="2.6" stroke-linecap="butt"/>
<line x1="260.0" y1="842.4" x2="270.0" y2="842.4" stroke="#008000" stroke-width="2.6" stroke-linecap="butt"/>
<rect x="259.5" y="832.6" width="11" height="11.6" fill="#008000"/>
<line x1="329.4" y1="877.9" x2="329.4" y2="882.7" stroke="#008000" stroke-width="2.6" stroke-linecap="butt"/>
<line x1="324.4" y1="877.9" x2="334.4" y2="877.9" stroke="#008000" stroke-width="2.6" stroke-linecap="butt"/>
<line x1="324.4" y1="882.7" x2="334.4" y2="882.7" stroke="#008000" stroke-width="2.6" stroke-linecap="butt"/>
<rect x="323.9" y="874.5" width="11" height="11.6" fill="#008000"/>
<line x1="458.1" y1="986.9" x2="458.1" y2="990.9" stroke="#008000" stroke-width="2.6" stroke-linecap="butt"/>
<line x1="453.1" y1="986.9" x2="463.1" y2="986.9" stroke="#008000" stroke-width="2.6" stroke-linecap="butt"/>
<line x1="453.1" y1="990.9" x2="463.1" y2="990.9" stroke="#008000" stroke-width="2.6" stroke-linecap="butt"/>
<rect x="452.6" y="983.1" width="11" height="11.6" fill="#008000"/>
<line x1="715.6" y1="1031.6" x2="715.6" y2="1036.3" stroke="#008000" stroke-width="2.6" stroke-linecap="butt"/>
<line x1="710.6" y1="1031.6" x2="720.6" y2="1031.6" stroke="#008000" stroke-width="2.6" stroke-linecap="butt"/>
<line x1="710.6" y1="1036.3" x2="720.6" y2="1036.3" stroke="#008000" stroke-width="2.6" stroke-linecap="butt"/>
<rect x="710.1" y="1028.2" width="11" height="11.6" fill="#008000"/>
<defs><pattern id="hg" patternUnits="userSpaceOnUse" x="2.65" y="0" width="11.75" height="11.75"><path d="M-1,1 L1,-1 M0,11.75 L11.75,0 M10.75,12.75 L12.75,10.75" stroke="#303030" stroke-width="1.05" fill="none"/></pattern><pattern id="hk" patternUnits="userSpaceOnUse" x="10.15" y="0" width="11.7" height="11.7"><path d="M-1,1 L1,-1 M0,11.7 L11.7,0 M10.7,12.7 L12.7,10.7" stroke="#100000" stroke-width="1.2" fill="none"/></pattern></defs>
<rect x="1056.9" y="753.3" width="109.9" height="342.0" fill="#fff" stroke="#000" stroke-width="3"/>
<rect x="1196.9" y="758.4" width="109.2" height="336.9" fill="#fff"/>
<rect x="1196.9" y="758.4" width="109.2" height="336.9" fill="url(#hg)" stroke="#000" stroke-width="3"/>
<rect x="1334.0" y="1019.0" width="112.8" height="76.3" fill="#ff0000"/>
<rect x="1474.3" y="911.0" width="112.1" height="184.3" fill="#ff0000"/>
<rect x="1474.3" y="911.0" width="112.1" height="184.3" fill="url(#hk)"/>
<line x1="1251.5" y1="758.4" x2="1251.5" y2="753.0" stroke="#000" stroke-width="3" stroke-linecap="butt"/>
<line x1="1246.0" y1="753.0" x2="1257.0" y2="753.0" stroke="#000" stroke-width="3" stroke-linecap="butt"/>
<line x1="1390.4" y1="1019.0" x2="1390.4" y2="1016.0" stroke="#000" stroke-width="3" stroke-linecap="butt"/>
<line x1="1384.9" y1="1016.0" x2="1395.9" y2="1016.0" stroke="#000" stroke-width="3" stroke-linecap="butt"/>
<line x1="1530.3" y1="911.0" x2="1530.3" y2="904.5" stroke="#000" stroke-width="3" stroke-linecap="butt"/>
<line x1="1524.8" y1="904.5" x2="1535.8" y2="904.5" stroke="#000" stroke-width="3" stroke-linecap="butt"/>
<line x1="1042.8" y1="684.9" x2="1042.8" y2="1096.8" stroke="#000" stroke-width="3" stroke-linecap="butt"/>
<line x1="1033.8" y1="1095.3" x2="1604.0" y2="1095.3" stroke="#000" stroke-width="3" stroke-linecap="butt"/>
<line x1="1033.8" y1="1095.3" x2="1042.8" y2="1095.3" stroke="#000" stroke-width="3" stroke-linecap="butt"/>
<text x="1027.2" y="1104.0" font-size="28" text-anchor="end">0</text>
<line x1="1033.8" y1="924.3" x2="1042.8" y2="924.3" stroke="#000" stroke-width="3" stroke-linecap="butt"/>
<text x="1027.2" y="933.0" font-size="28" text-anchor="end">50</text>
<line x1="1033.8" y1="753.3" x2="1042.8" y2="753.3" stroke="#000" stroke-width="3" stroke-linecap="butt"/>
<text x="1027.2" y="762.0" font-size="28" text-anchor="end">100</text>
<line x1="1037.8" y1="1009.8" x2="1042.8" y2="1009.8" stroke="#000" stroke-width="3" stroke-linecap="butt"/>
<line x1="1037.8" y1="838.8" x2="1042.8" y2="838.8" stroke="#000" stroke-width="3" stroke-linecap="butt"/>
<polyline points="1111.9,742.0 1111.9,719.4 1391.3,719.4 1391.3,996.5" fill="none" stroke="#000" stroke-width="2.8" stroke-linejoin="miter"/>
<polyline points="1249.4,745.5 1249.4,733.9 1527.4,733.9 1527.4,896.0" fill="none" stroke="#000" stroke-width="2.8" stroke-linejoin="miter"/>
<polyline points="1395.8,996.5 1395.8,872.4 1534.0,872.4 1534.0,896.0" fill="none" stroke="#000" stroke-width="2.8" stroke-linejoin="miter"/>
<text transform="translate(1258.4,706.5) scale(1,0.8)" font-size="36" text-anchor="middle" y="19.1" stroke="#000" stroke-width="0.7">**</text>
<text transform="translate(1449.2,720.7) scale(1,0.8)" font-size="36" text-anchor="middle" y="19.1" stroke="#000" stroke-width="0.7">**</text>
<text transform="translate(1452.3,862.0) scale(1,0.8)" font-size="36" text-anchor="middle" y="19.1" stroke="#000" stroke-width="0.7">**</text>
<text transform="translate(922.5,874.5) rotate(-90)" font-size="36.2" text-anchor="middle">SW982 Cell-Viability</text>
<text transform="translate(968.5,873.1) rotate(-90)" font-size="36.2" text-anchor="middle">after 48 h (%)</text>
<text x="832.5" y="690.8" font-size="79" text-anchor="start">d</text>
<text x="1078.0" y="1129.3" font-size="28" text-anchor="start">cont</text>
<text x="1203.2" y="1129.5" font-size="28" text-anchor="start">50 <tspan font-family="Liberation Serif, serif">μ</tspan>M</text>
<text x="1203.6" y="1163.4" font-size="28" text-anchor="start">ML204</text>
<text x="1331.0" y="1129.3" font-size="28" text-anchor="start">10 nM EA</text>
<text x="1477.5" y="1129.5" font-size="28" text-anchor="start">50 <tspan font-family="Liberation Serif, serif">μ</tspan>M ML204</text>
<text x="1551.5" y="1151.5" font-size="28" text-anchor="middle">+</text>
<text x="1477.5" y="1176.5" font-size="28" text-anchor="start">10 nM EA</text>
</svg>
</body></html>
